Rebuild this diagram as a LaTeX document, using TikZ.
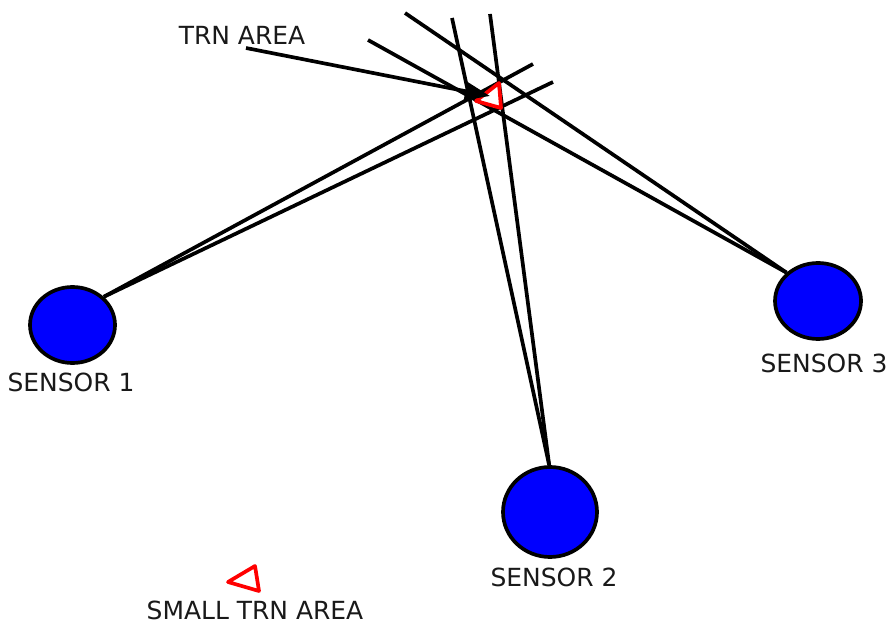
\documentclass[tikz,border=0pt]{standalone}
\usepackage{fontspec}
\setmainfont{DejaVu Sans}
\usetikzlibrary{shapes.geometric,arrows.meta}
\tikzset{
  snsr/.style={ellipse, fill=blue, draw=black, line width=2.1pt, inner sep=0pt},
  bearing/.style={line width=2.1pt, draw=black},
  trnarea/.style={draw=red, line width=2.1pt, line join=round},
  snlabel/.style={font=\fontsize{14.2}{16}\selectfont, text=black!90, inner sep=0pt},
}

\begin{document}
\begin{tikzpicture}
\useasboundingbox (0,0) rectangle (17.76,12.50);
% sensors
\node[snsr, minimum width=1.70cm, minimum height=1.52cm] (s1) at (1.45,6.00) {};
\node[snsr, minimum width=1.88cm, minimum height=1.80cm] (s2) at (11.00,2.26) {};
\node[snsr, minimum width=1.72cm, minimum height=1.52cm] (s3) at (16.36,6.48) {};
\node[snlabel] (s1lbl) at (1.42,4.86) {SENSOR 1};
\node[snlabel] (s2lbl) at (11.08,0.96) {SENSOR 2};
\node[snlabel] (s3lbl) at (16.48,5.24) {SENSOR 3};
% far ends of the bearing lines
\coordinate (b1a) at (10.66,11.22);
\coordinate (b1b) at (11.06,10.86);
\coordinate (b2a) at (9.04,12.14);
\coordinate (b2b) at (9.80,12.22);
\coordinate (b3a) at (7.36,11.70);
\coordinate (b3b) at (8.10,12.24);
\draw[bearing] (s1.42) -- (b1a);
\draw[bearing] (s1.42) -- (b1b);
\draw[bearing] (s2.91) -- (b2a);
\draw[bearing] (s2.91) -- (b2b);
\draw[bearing] (s3.138) -- (b3a);
\draw[bearing] (s3.138) -- (b3b);
% target areas
\draw[trnarea] (9.52,10.48) -- (9.98,10.84) -- (10.02,10.34) -- cycle;
\draw[trnarea] (4.56,0.86) -- (5.10,1.18) -- (5.18,0.68) -- cycle;
\node[snlabel] (trnlbl) at (4.84,11.80) {TRN AREA};
\node[snlabel] (smlbl) at (5.10,0.29) {SMALL TRN AREA};
% pointer to the big area
\coordinate (ptr) at (4.92,11.54);
\coordinate (trntip) at (9.80,10.58);
\draw[bearing, -{Triangle[length=0.50cm,width=0.36cm]}] (ptr) -- (trntip);
\end{tikzpicture}
\end{document}
